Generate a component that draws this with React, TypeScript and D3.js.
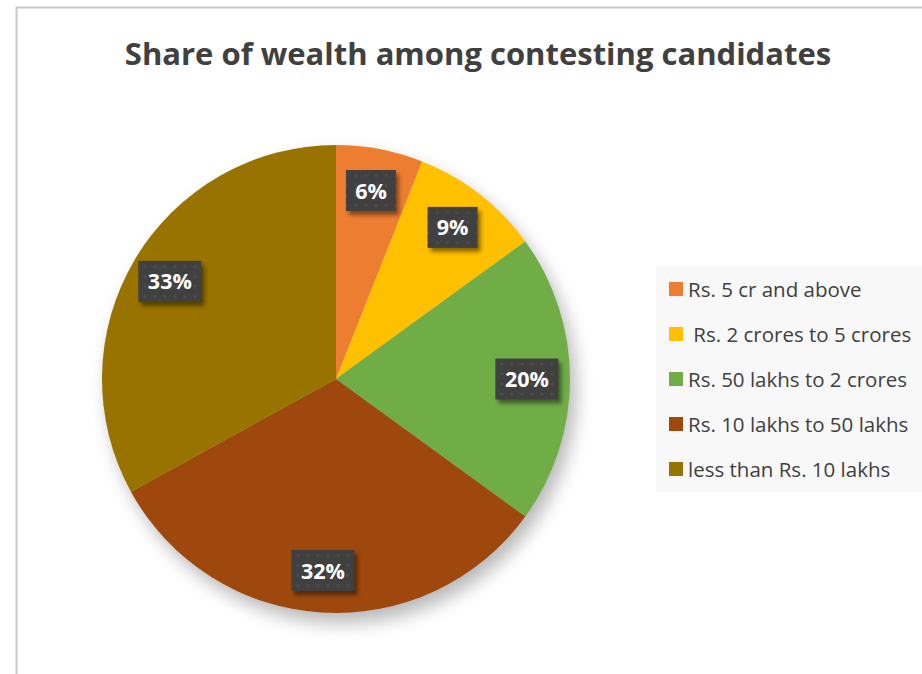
import React from "react";
import * as d3 from "d3";

const WIDTH = 922;
const HEIGHT = 674;

const categories = [
  "Rs. 5 cr and above",
  " Rs. 2 crores to 5 crores",
  "Rs. 50 lakhs to 2 crores",
  "Rs. 10 lakhs to 50 lakhs",
  "less than Rs. 10 lakhs",
];
const shares = [6, 9, 20, 32, 33];
const colors = ["#ED7D31", "#FFC000", "#70AD47", "#9E480E", "#997300"];

const CX = 336;
const CY = 379;
const R = 234;

export default function App() {
  const pie = d3.pie<number>().sort(null).value((d) => d);
  const arcs = pie(shares);
  const arcGen = d3.arc<d3.PieArcDatum<number>>().innerRadius(0).outerRadius(R);
  const labelArc = d3
    .arc<d3.PieArcDatum<number>>()
    .innerRadius(R * 0.82)
    .outerRadius(R * 0.82);

  const legendY = d3
    .scalePoint<string>()
    .domain(categories)
    .range([289, 469]);

  return (
    <svg
      width={WIDTH}
      height={HEIGHT}
      style={{ position: "absolute", left: 0, top: 0, background: "#fff" }}
    >
      <defs>
        <filter id="pieShadow" x="-30%" y="-30%" width="160%" height="160%">
          <feGaussianBlur stdDeviation="9" />
        </filter>
        <filter id="boxShadow" x="-30%" y="-30%" width="160%" height="160%">
          <feGaussianBlur stdDeviation="2" />
        </filter>
        <pattern id="dots" width="10" height="10" patternUnits="userSpaceOnUse">
          <rect width="10" height="10" fill="#404040" />
          <circle cx="5" cy="5" r="1.6" fill="#4d4d4d" />
        </pattern>
      </defs>

      {/* frame */}
      <line x1={16.5} y1={7} x2={16.5} y2={HEIGHT} stroke="#c8c8c8" strokeWidth={2} />
      <line x1={16} y1={7.5} x2={WIDTH} y2={7.5} stroke="#c8c8c8" strokeWidth={2} />

      <text
        x={478}
        y={65}
        textAnchor="middle"
        fontFamily="'Open Sans', sans-serif"
        fontWeight={700}
        fontSize={31}
        fill="#404040"
      >
        Share of wealth among contesting candidates
      </text>

      {/* pie shadow */}
      <circle cx={CX + 6} cy={CY + 10} r={R} fill="#000" opacity={0.28} filter="url(#pieShadow)" />

      <g transform={`translate(${CX},${CY})`}>
        {arcs.map((a, i) => (
          <path key={i} d={arcGen(a) || ""} fill={colors[i]} />
        ))}
        {arcs.map((a, i) => {
          const [lx, ly] = labelArc.centroid(a);
          const txt = `${shares[i]}%`;
          const w = txt.length === 2 ? 50 : 63;
          const h = 41;
          return (
            <g key={"l" + i} transform={`translate(${lx - 1},${ly})`}>
              <rect
                x={-w / 2 + 3}
                y={-h / 2 + 4}
                width={w}
                height={h}
                fill="#000"
                opacity={0.45}
                filter="url(#boxShadow)"
              />
              <rect x={-w / 2} y={-h / 2} width={w} height={h} fill="url(#dots)" />
              <text
                x={0}
                y={8}
                textAnchor="middle"
                fontFamily="'Open Sans', sans-serif"
                fontWeight={700}
                fontSize={21.5}
                fill="#fff"
              >
                {txt}
              </text>
            </g>
          );
        })}
      </g>

      {/* legend */}
      <rect x={656} y={266} width={WIDTH - 656} height={226} fill="#f8f8f8" />
      {categories.map((c, i) => (
        <g key={c} transform={`translate(669,${legendY(c)})`}>
          <rect x={0} y={-7} width={14} height={14} fill={colors[i]} />
          <text
            x={19}
            y={7.5}
            fontFamily="'Open Sans', sans-serif"
            fontSize={20.5}
            fill="#404040"
            style={{ whiteSpace: "pre" }}
          >
            {c}
          </text>
        </g>
      ))}
    </svg>
  );
}
